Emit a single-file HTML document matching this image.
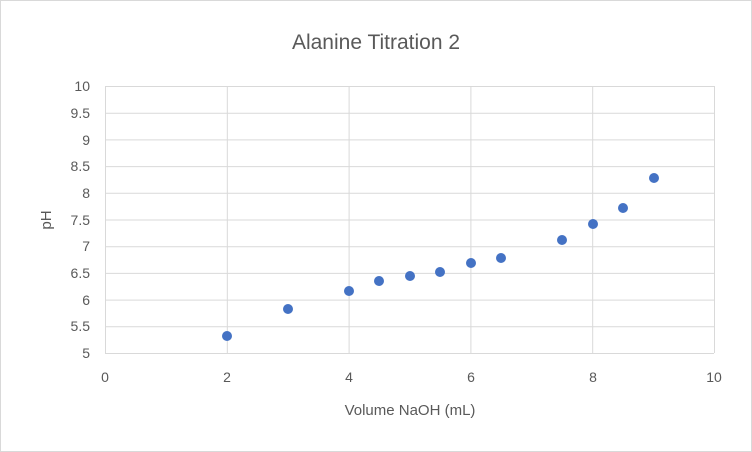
<!DOCTYPE html>
<html><head><style>body{margin:0;background:#fff}svg{display:block}text{font-family:"Liberation Sans",sans-serif;fill:#595959}</style></head><body>
<svg width="752" height="452" xmlns="http://www.w3.org/2000/svg">
<rect x="0.5" y="0.5" width="751" height="451" fill="#fff" stroke="#d9d9d9"/>
<text x="376" y="49" font-size="21" text-anchor="middle">Alanine Titration 2</text>
<g stroke="#d9d9d9" stroke-width="1">
<line x1="105" y1="86.5" x2="714" y2="86.5"/><line x1="105" y1="113.2" x2="714" y2="113.2"/><line x1="105" y1="139.9" x2="714" y2="139.9"/><line x1="105" y1="166.6" x2="714" y2="166.6"/><line x1="105" y1="193.3" x2="714" y2="193.3"/><line x1="105" y1="220" x2="714" y2="220"/><line x1="105" y1="246.7" x2="714" y2="246.7"/><line x1="105" y1="273.4" x2="714" y2="273.4"/><line x1="105" y1="300.1" x2="714" y2="300.1"/><line x1="105" y1="326.8" x2="714" y2="326.8"/><line x1="105" y1="353.5" x2="714" y2="353.5"/>
<line x1="105.5" y1="86" x2="105.5" y2="353"/><line x1="227.3" y1="86" x2="227.3" y2="353"/><line x1="349.1" y1="86" x2="349.1" y2="353"/><line x1="470.9" y1="86" x2="470.9" y2="353"/><line x1="592.7" y1="86" x2="592.7" y2="353"/><line x1="714.5" y1="86" x2="714.5" y2="353"/>
</g>
<g font-size="14" text-anchor="end">
<text x="90" y="91">10</text><text x="90" y="118">9.5</text><text x="90" y="145">9</text><text x="90" y="171">8.5</text><text x="90" y="198">8</text><text x="90" y="225">7.5</text><text x="90" y="251">7</text><text x="90" y="278">6.5</text><text x="90" y="305">6</text><text x="90" y="331">5.5</text><text x="90" y="358">5</text>
</g>
<g font-size="14" text-anchor="middle">
<text x="105" y="382">0</text><text x="227" y="382">2</text><text x="349" y="382">4</text><text x="471" y="382">6</text><text x="593" y="382">8</text><text x="714" y="382">10</text>
<text x="410" y="415" font-size="15">Volume NaOH (mL)</text>
</g>
<text transform="translate(51,220) rotate(-90)" font-size="15" text-anchor="middle">pH</text>
<g fill="#4472c4">
<circle cx="227" cy="336" r="5"/><circle cx="288" cy="309" r="5"/><circle cx="349" cy="291" r="5"/><circle cx="379" cy="310" r="0"/><circle cx="379" cy="281" r="5"/><circle cx="410" cy="276" r="5"/><circle cx="440" cy="272" r="5"/><circle cx="471" cy="263" r="5"/><circle cx="501" cy="258" r="5"/><circle cx="562" cy="240" r="5"/><circle cx="593" cy="224" r="5"/><circle cx="623" cy="208" r="5"/><circle cx="654" cy="178" r="5"/>
</g>
</svg>
</body></html>
